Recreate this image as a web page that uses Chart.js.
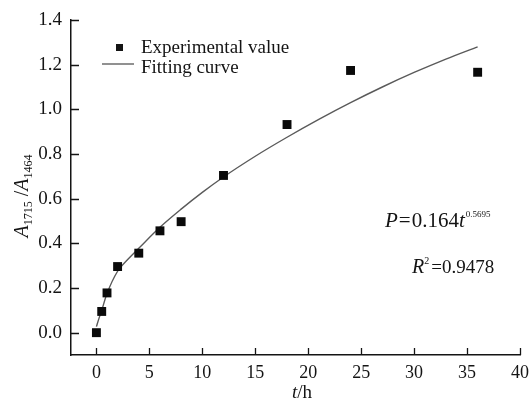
<!DOCTYPE html>
<html><head><meta charset="utf-8">
<script src="https://cdn.jsdelivr.net/npm/chart.js@4.4.1/dist/chart.umd.min.js"></script>
<style>html,body{margin:0;padding:0;background:#fff}</style>
</head><body>
<canvas id="c" width="530" height="403"></canvas>
<script>
// ---- data ----
const expT   = [0, 0.5, 1, 2, 4, 6, 8, 12, 18, 24, 36];
const expVal = [0.0, 0.095, 0.178, 0.296, 0.356, 0.456, 0.497, 0.704, 0.932, 1.174, 1.166];
const fitT   = [0, 0.25, 0.5, 1, 2, 3, 4, 6, 8, 10, 12, 15, 18, 21, 24, 27, 30, 33, 36];
const fitVal = [0.027, 0.065, 0.10, 0.175, 0.275, 0.33, 0.378, 0.472, 0.553, 0.628, 0.697, 0.79, 0.875, 0.955, 1.03, 1.10, 1.165, 1.225, 1.28];
const xTicks = [0, 5, 10, 15, 20, 25, 30, 35, 40];
const yTicks = [0.0, 0.2, 0.4, 0.6, 0.8, 1.0, 1.2, 1.4];
const legendLabels = ['Experimental value', 'Fitting curve'];

const SERIF = "'Liberation Serif','Times New Roman',serif";
const INK = '#141414';

function seg(ctx, parts, x, y) {
  // parts: [text, size, italic, dy, gapAfter]
  let cx = x;
  for (const p of parts) {
    ctx.font = (p[2] ? 'italic ' : '') + p[1] + 'px ' + SERIF;
    ctx.fillText(p[0], cx, y + (p[3] || 0));
    cx += ctx.measureText(p[0]).width + (p[4] || 0);
  }
  return cx - x;
}
function segWidth(ctx, parts) {
  let w = 0;
  for (const p of parts) {
    ctx.font = (p[2] ? 'italic ' : '') + p[1] + 'px ' + SERIF;
    w += ctx.measureText(p[0]).width + (p[4] || 0);
  }
  return w;
}

const decor = {
  id: 'decor',
  afterDraw(chart) {
    const ctx = chart.ctx;
    const xs = chart.scales.x, ys = chart.scales.y;
    const area = chart.chartArea;
    ctx.save();
    // inward ticks
    ctx.strokeStyle = INK; ctx.lineWidth = 1.3;
    ctx.beginPath();
    for (const v of xTicks) {
      const px = Math.round(xs.getPixelForValue(v)) + 0.5;
      ctx.moveTo(px, area.bottom); ctx.lineTo(px, area.bottom - 7);
    }
    for (const v of yTicks) {
      const py = Math.round(ys.getPixelForValue(v)) + 0.5;
      ctx.moveTo(area.left, py); ctx.lineTo(area.left + 8, py);
    }
    ctx.stroke();

    ctx.fillStyle = INK;
    ctx.textBaseline = 'alphabetic';
    ctx.textAlign = 'left';

    // legend
    ctx.fillRect(116, 44, 7, 7);
    ctx.font = '19px ' + SERIF;
    ctx.fillText(legendLabels[0], 141, 53);
    ctx.strokeStyle = '#555'; ctx.lineWidth = 1.3;
    ctx.beginPath(); ctx.moveTo(102, 64); ctx.lineTo(134, 64); ctx.stroke();
    ctx.fillText(legendLabels[1], 141, 73);

    // equation
    seg(ctx, [['P', 21, true, 0, 1], ['=', 21, false, 0, 1], ['0.164', 21, false], ['t', 21, true, 0, 1], ['0.5695', 9, false, -10]], 385, 227);
    seg(ctx, [['R', 20, true], ['2', 10, false, -9, 2], ['=0.9478', 19, false]], 412, 273);

    // x title
    const xt = [['t', 19, true], ['/h', 19, false]];
    const xw = segWidth(ctx, xt);
    seg(ctx, xt, 302 - xw / 2, 398);

    // y title (rotated)
    const yt = [['A', 20, true], ['1715', 12, false, 4], [' /', 20, false], ['A', 20, true], ['1464', 12, false, 4]];
    const yw = segWidth(ctx, yt);
    ctx.translate(28, 196 + yw / 2);
    ctx.rotate(-Math.PI / 2);
    seg(ctx, yt, 0, 0);
    ctx.restore();
  }
};

new Chart(document.getElementById('c'), {
  type: 'scatter',
  data: {
    datasets: [
      {
        label: legendLabels[1],
        type: 'line',
        data: fitT.map((t, i) => ({ x: t, y: fitVal[i] })),
        borderColor: '#5a5a5a',
        borderWidth: 1.4,
        pointRadius: 0,
        fill: false,
        cubicInterpolationMode: 'monotone',
        order: 2
      },
      {
        label: legendLabels[0],
        data: expT.map((t, i) => ({ x: t, y: expVal[i] })),
        pointStyle: 'rect',
        pointRadius: 6.3,
        pointHoverRadius: 6.3,
        backgroundColor: '#0a0a0a',
        borderColor: '#0a0a0a',
        borderWidth: 0,
        order: 1
      }
    ]
  },
  options: {
    responsive: false,
    animation: false,
    events: [],
    layout: { padding: { left: 0, right: 10, top: 20, bottom: 0 } },
    plugins: { legend: { display: false }, tooltip: { enabled: false } },
    scales: {
      x: {
        type: 'linear', min: -2.4, max: 40,
        afterBuildTicks(s) { s.ticks = xTicks.map(v => ({ value: v })); },
        afterFit(s) { s.height = 48; s.paddingLeft = 0; s.paddingRight = 0; },
        grid: { display: true, drawOnChartArea: false, drawTicks: false },
        border: { display: true, color: INK, width: 1.5 },
        ticks: { color: INK, padding: 7, maxRotation: 0, autoSkip: false,
          font: { family: SERIF, size: 18 }, callback: v => String(v) }
      },
      y: {
        type: 'linear', min: -0.1, max: 1.4,
        afterBuildTicks(s) { s.ticks = yTicks.map(v => ({ value: v })); },
        afterFit(s) { s.width = 71; s.paddingTop = 0; s.paddingBottom = 0; },
        grid: { display: true, drawOnChartArea: false, drawTicks: false },
        border: { display: true, color: INK, width: 1.5 },
        ticks: { color: INK, padding: 9, autoSkip: false,
          font: { family: SERIF, size: 19 }, callback: v => Number(v).toFixed(1) }
      }
    }
  },
  plugins: [decor]
});
</script>
</body></html>
